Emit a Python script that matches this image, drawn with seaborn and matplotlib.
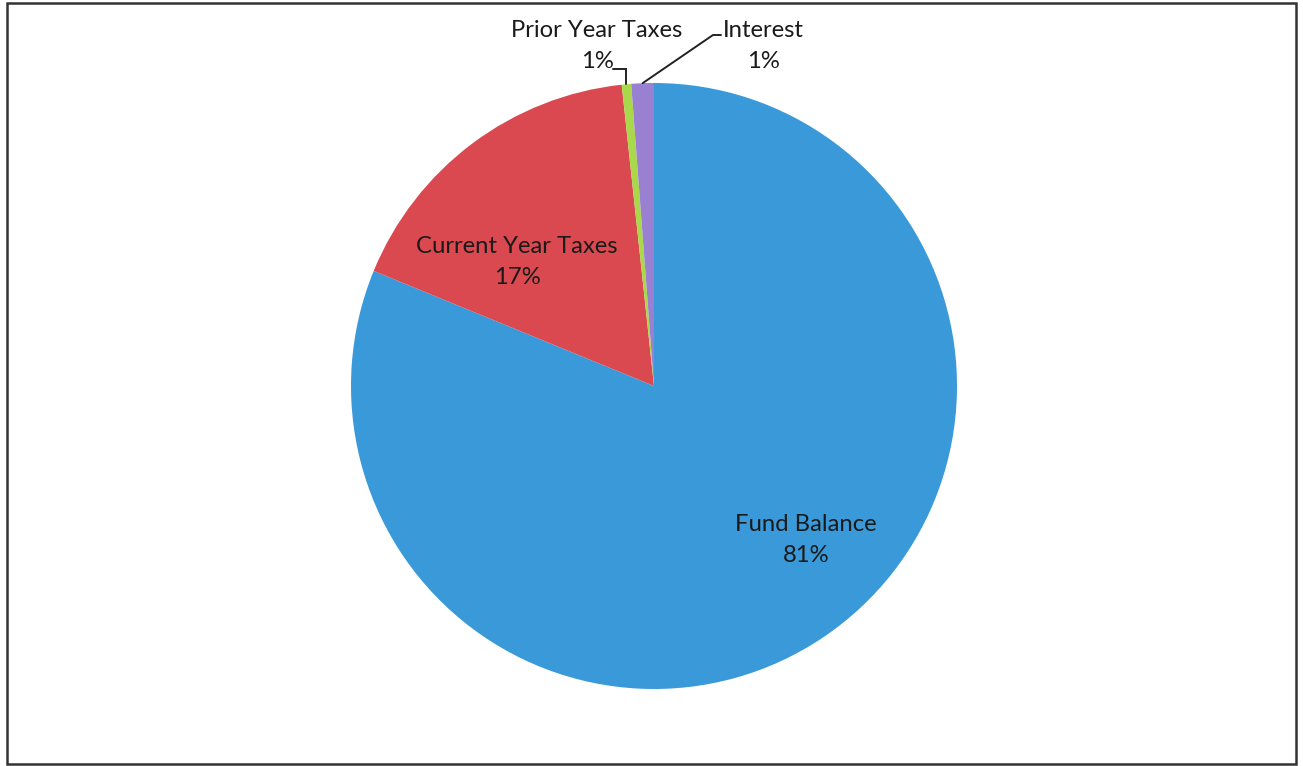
import numpy as np
import matplotlib
matplotlib.use("Agg")
import matplotlib.pyplot as plt
import seaborn as sns
from matplotlib.patches import Rectangle

# ---- data ----
categories = ["Fund Balance", "Current Year Taxes", "Prior Year Taxes", "Interest"]
values = [81.2, 17.1, 0.5, 1.2]
pct_labels = ["81%", "17%", "1%", "1%"]
colors = ["#3a9ad9", "#d9494f", "#a9d94a", "#9a80d0"]

sns.set_theme(style="white")
plt.rcParams['font.family'] = ['Lato', 'DejaVu Sans']

W, H = 1303, 766
fig = plt.figure(figsize=(W / 100, H / 100), dpi=100)
ax = fig.add_axes([0, 0, 1, 1])

palette = sns.color_palette(colors)
wedges, _ = ax.pie(values, colors=palette, startangle=90, counterclock=False,
                   radius=1.0, wedgeprops=dict(linewidth=0))

# map pixels to data: pie center (654,386) radius 303 px
cx, cy, R = 654, 386, 303
ax.set_xlim(-cx / R, (W - cx) / R)
ax.set_ylim(-(H - cy) / R, cy / R)
ax.set_aspect('auto')
ax.axis('off')

fs = 17.2
ls = 1.55
txtc = "#1a1a1a"

def px(x, y):
    return (x - cx) / R, (cy - y) / R

# inside labels
ax.text(*px(517, 262), f"{categories[1]}\n{pct_labels[1]}", ha='center', va='center',
        fontsize=fs, color=txtc, linespacing=ls)
ax.text(*px(806, 540), f"{categories[0]}\n{pct_labels[0]}", ha='center', va='center',
        fontsize=fs, color=txtc, linespacing=ls)

# outside labels
ax.text(*px(597, 46), f"{categories[2]}\n{pct_labels[2]}", ha='center', va='center',
        fontsize=fs, color=txtc, linespacing=ls)
ax.text(*px(763, 46), f"{categories[3]}\n{pct_labels[3]}", ha='center', va='center',
        fontsize=fs, color=txtc, linespacing=ls)

# leader lines to wedge midpoints
def wedge_mid(w):
    a = np.deg2rad((w.theta1 + w.theta2) / 2)
    return np.cos(a), np.sin(a)

mx, my = wedge_mid(wedges[2])
x0, y0 = px(613, 69)
ax.plot([x0, mx, mx], [y0, y0, my], color="#222222", lw=1.4, solid_joinstyle='miter')

mx, my = wedge_mid(wedges[3])
x0, y0 = px(721, 35)
x1, _ = px(713, 35)
ax.plot([x0, x1, mx], [y0, y0, my], color="#222222", lw=1.4)

# outer border
fig.patches.append(Rectangle((7 / W, 2 / H), (1296 - 7) / W, (763 - 2) / H,
                             transform=fig.transFigure, fill=False,
                             edgecolor="#333333", linewidth=1.8))

fig.savefig("out.png", dpi=100)
